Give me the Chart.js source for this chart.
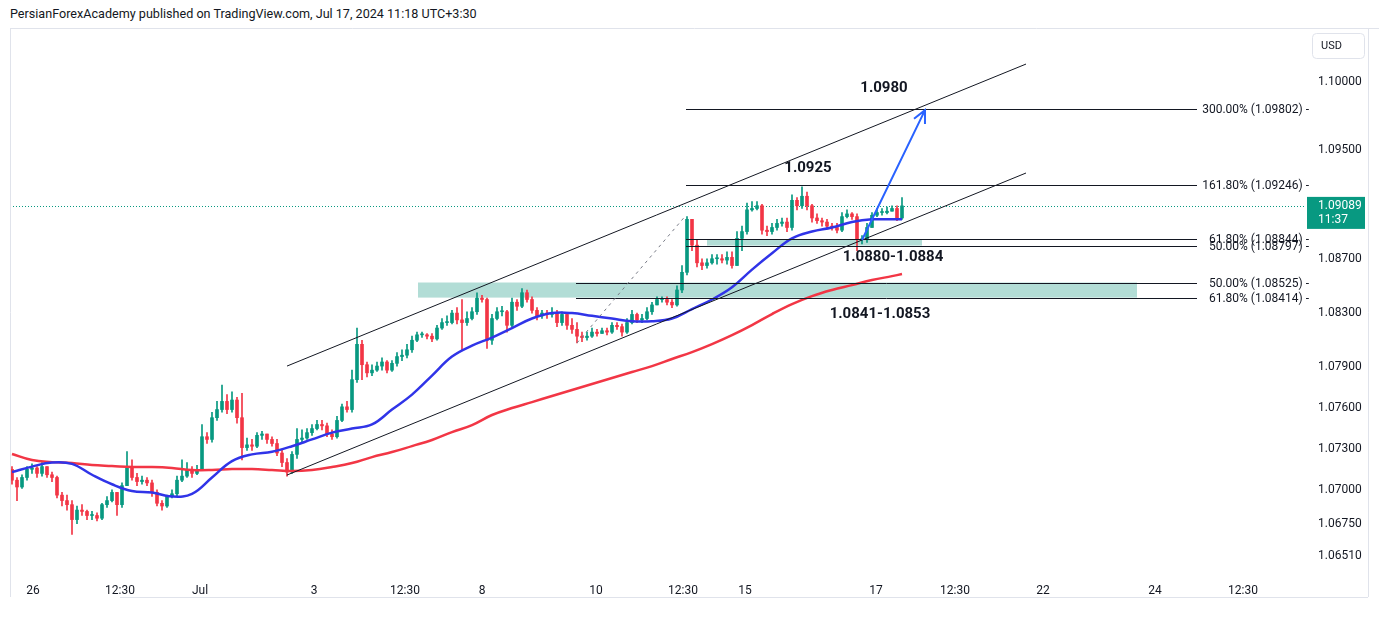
<!DOCTYPE html>
<html>
<head>
<meta charset="utf-8">
<title>EURUSD 1H</title>
<script src="https://cdn.jsdelivr.net/npm/chart.js@4.4.1/dist/chart.umd.min.js"></script>
<style>
  html, body { margin: 0; padding: 0; background: #fff; }
  #wrap { position: relative; width: 1379px; height: 634px; overflow: hidden; }
  #hdr { position: absolute; left: 10px; top: 6px; font: 12.6px Roboto, "Noto Sans", sans-serif; color: #131722; }
  #chart { position: absolute; left: 0; top: 0; }
</style>
</head>
<body>
<div id="wrap">
  <div id="hdr">PersianForexAcademy published on TradingView.com, Jul 17, 2024 11:18 UTC+3:30</div>
  <canvas id="chart" width="1379" height="634"></canvas>
</div>
<script>
"use strict";

// hourly candles, one per bar index, open = previous close
const firstOpen = 1.0715;
const closes = [
  1.0707, 1.0702, 1.0709, 1.0715, 1.0716, 1.0712, 1.0717, 1.0711, 1.0709, 1.0696,
  1.0692, 1.0689, 1.0678, 1.0685, 1.0684, 1.0681, 1.0681, 1.0679, 1.0689, 1.0692,
  1.0698, 1.0689, 1.0703, 1.0716, 1.0709, 1.0706, 1.0707, 1.0705, 1.0698, 1.0690,
  1.0688, 1.0695, 1.0697, 1.0707, 1.0710, 1.0715, 1.0712, 1.0715, 1.0739, 1.0737,
  1.0753, 1.0759, 1.0765, 1.0759, 1.0766, 1.0753, 1.0731, 1.0733, 1.0732, 1.0740,
  1.0741, 1.0737, 1.0734, 1.0727, 1.0720, 1.0713, 1.0726, 1.0737, 1.0738, 1.0742,
  1.0745, 1.0748, 1.0747, 1.0741, 1.0739, 1.0751, 1.0761, 1.0759, 1.0781, 1.0807,
  1.0792, 1.0786, 1.0788, 1.0791, 1.0794, 1.0788, 1.0793, 1.0798, 1.0799, 1.0803,
  1.0810, 1.0814, 1.0814, 1.0813, 1.0811, 1.0819, 1.0823, 1.0823, 1.0830, 1.0825,
  1.0823, 1.0826, 1.0831, 1.0841, 1.0840, 1.0810, 1.0826, 1.0831, 1.0831, 1.0821,
  1.0838, 1.0835, 1.0845, 1.0840, 1.0832, 1.0828, 1.0830, 1.0829, 1.0830, 1.0823,
  1.0829, 1.0821, 1.0818, 1.0813, 1.0812, 1.0813, 1.0816, 1.0815, 1.0817, 1.0816,
  1.0821, 1.0820, 1.0816, 1.0823, 1.0829, 1.0825, 1.0826, 1.0831, 1.0836, 1.0840,
  1.0840, 1.0838, 1.0836, 1.0847, 1.0860, 1.0899, 1.0880, 1.0867, 1.0865, 1.0867,
  1.0870, 1.0870, 1.0869, 1.0871, 1.0865, 1.0885, 1.0890, 1.0906, 1.0907, 1.0909,
  1.0891, 1.0890, 1.0893, 1.0896, 1.0897, 1.0893, 1.0913, 1.0909, 1.0916, 1.0909,
  1.0900, 1.0898, 1.0897, 1.0894, 1.0893, 1.0891, 1.0901, 1.0903, 1.0901, 1.0884,
  1.0884, 1.0893, 1.0902, 1.0904, 1.0904, 1.0905, 1.0907, 1.0900, 1.09089
];
const highs = [
  1.0717, 1.0709, 1.0711, 1.0717, 1.0719, 1.0717, 1.0720, 1.0717, 1.0713, 1.0710,
  1.0698, 1.0696, 1.0692, 1.0688, 1.0689, 1.0685, 1.0684, 1.0683, 1.0690, 1.0695,
  1.0700, 1.0698, 1.0705, 1.0728, 1.0722, 1.0712, 1.0710, 1.0709, 1.0707, 1.0700,
  1.0692, 1.0696, 1.0700, 1.0710, 1.0722, 1.0720, 1.0717, 1.0718, 1.0748, 1.0742,
  1.0757, 1.0765, 1.0777, 1.0770, 1.0772, 1.0768, 1.0771, 1.0738, 1.0737, 1.0742,
  1.0743, 1.0741, 1.0739, 1.0737, 1.0729, 1.0723, 1.0728, 1.0745, 1.0744, 1.0745,
  1.0748, 1.0751, 1.0751, 1.0749, 1.0744, 1.0754, 1.0763, 1.0765, 1.0788, 1.0819,
  1.0810, 1.0794, 1.0792, 1.0794, 1.0797, 1.0795, 1.0795, 1.0801, 1.0803, 1.0807,
  1.0813, 1.0816, 1.0816, 1.0815, 1.0815, 1.0821, 1.0826, 1.0828, 1.0832, 1.0834,
  1.0840, 1.0831, 1.0834, 1.0845, 1.0843, 1.0841, 1.0829, 1.0834, 1.0835, 1.0832,
  1.0841, 1.0840, 1.0848, 1.0847, 1.0842, 1.0834, 1.0832, 1.0832, 1.0834, 1.0832,
  1.0831, 1.0830, 1.0826, 1.0823, 1.0816, 1.0816, 1.0819, 1.0818, 1.0819, 1.0819,
  1.0823, 1.0823, 1.0822, 1.0826, 1.0832, 1.0830, 1.0829, 1.0834, 1.0838, 1.0842,
  1.0842, 1.0842, 1.0840, 1.0850, 1.0865, 1.0901, 1.0899, 1.0884, 1.0870, 1.0870,
  1.0873, 1.0873, 1.0873, 1.0875, 1.0875, 1.0890, 1.0894, 1.0911, 1.0912, 1.0912,
  1.0910, 1.0894, 1.0896, 1.0899, 1.0900, 1.0900, 1.0917, 1.0915, 1.0923, 1.0919,
  1.0910, 1.0903, 1.0900, 1.0899, 1.0896, 1.0896, 1.0904, 1.0906, 1.0904, 1.0903,
  1.0887, 1.0896, 1.0904, 1.0907, 1.0907, 1.0908, 1.0909, 1.0909, 1.0915
];
const lows = [
  1.0704, 1.0692, 1.0701, 1.0707, 1.0712, 1.0709, 1.0710, 1.0709, 1.0706, 1.0694,
  1.0688, 1.0685, 1.0667, 1.0675, 1.0681, 1.0678, 1.0678, 1.0677, 1.0678, 1.0687,
  1.0691, 1.0681, 1.0687, 1.0703, 1.0707, 1.0703, 1.0704, 1.0703, 1.0695, 1.0688,
  1.0685, 1.0687, 1.0694, 1.0695, 1.0706, 1.0709, 1.0709, 1.0711, 1.0714, 1.0734,
  1.0735, 1.0751, 1.0757, 1.0756, 1.0757, 1.0749, 1.0722, 1.0729, 1.0729, 1.0731,
  1.0737, 1.0734, 1.0732, 1.0725, 1.0717, 1.0710, 1.0712, 1.0723, 1.0735, 1.0737,
  1.0740, 1.0744, 1.0744, 1.0739, 1.0737, 1.0738, 1.0750, 1.0757, 1.0757, 1.0779,
  1.0781, 1.0783, 1.0784, 1.0787, 1.0788, 1.0786, 1.0787, 1.0791, 1.0795, 1.0797,
  1.0801, 1.0809, 1.0812, 1.0811, 1.0809, 1.0810, 1.0818, 1.0821, 1.0822, 1.0822,
  1.0803, 1.0821, 1.0825, 1.0829, 1.0838, 1.0804, 1.0807, 1.0825, 1.0828, 1.0816,
  1.0820, 1.0832, 1.0834, 1.0838, 1.0830, 1.0825, 1.0826, 1.0826, 1.0827, 1.0820,
  1.0821, 1.0818, 1.0815, 1.0808, 1.0809, 1.0810, 1.0812, 1.0813, 1.0815, 1.0814,
  1.0815, 1.0818, 1.0813, 1.0815, 1.0822, 1.0823, 1.0823, 1.0825, 1.0829, 1.0837,
  1.0838, 1.0836, 1.0834, 1.0835, 1.0845, 1.0858, 1.0876, 1.0864, 1.0862, 1.0863,
  1.0866, 1.0866, 1.0867, 1.0866, 1.0863, 1.0865, 1.0876, 1.0888, 1.0905, 1.0906,
  1.0888, 1.0887, 1.0888, 1.0891, 1.0894, 1.0890, 1.0891, 1.0906, 1.0907, 1.0906,
  1.0897, 1.0896, 1.0894, 1.0892, 1.0891, 1.0889, 1.0890, 1.0900, 1.0899, 1.0876,
  1.0881, 1.0882, 1.0893, 1.0901, 1.0902, 1.0903, 1.0905, 1.0898, 1.0899
];

// moving averages at these bar indices
const maBars = [0, 4, 8, 12, 16, 20, 24, 28, 32, 36, 40, 44, 48, 52, 56, 60, 64, 68, 72, 76,
  80, 84, 88, 92, 96, 100, 104, 108, 112, 116, 120, 124, 128, 132, 136, 140, 144, 148, 152, 156,
  160, 164, 168, 172, 176, 178];
const maFast = [1.0713, 1.0717, 1.0720, 1.0719, 1.0711, 1.0704, 1.0699, 1.0698, 1.0695, 1.0697,
  1.0709, 1.0721, 1.0726, 1.0728, 1.0732, 1.0737, 1.0742, 1.0745, 1.0748, 1.0759,
  1.0770, 1.0784, 1.0798, 1.0806, 1.0812, 1.0819, 1.0826, 1.0830, 1.0830, 1.0828,
  1.0826, 1.0824, 1.0824, 1.0826, 1.0833, 1.0840, 1.0849, 1.0862, 1.0874, 1.0885,
  1.0890, 1.0893, 1.0897, 1.0899, 1.0899, 1.0899];
const maSlow = [1.07263, 1.07218, 1.07203, 1.07196, 1.07181, 1.07174, 1.07167, 1.07167, 1.07160, 1.07145,
  1.07145, 1.07152, 1.07152, 1.07145, 1.07137, 1.07145, 1.07167, 1.07196, 1.07240, 1.07277,
  1.07321, 1.07366, 1.07424, 1.07476, 1.07550, 1.07601, 1.07645, 1.07690, 1.07734, 1.07778,
  1.07822, 1.07866, 1.07910, 1.07962, 1.08013, 1.08072, 1.08138, 1.08212, 1.08293, 1.08366,
  1.08425, 1.08470, 1.08506, 1.08543, 1.08572, 1.08587];

// axes
const timeTickPos = [4.2, 21.6, 37.6, 60.4, 78.6, 94, 116.8, 134.2, 146.6, 172.8, 188.6, 206.2, 228.6, 246.2];
const timeTickLabels = ["26", "12:30", "Jul", "3", "12:30", "8", "10", "12:30", "15", "17", "12:30", "22", "24", "12:30"];
const priceTicks = [1.10000, 1.09500, 1.08700, 1.08300, 1.07900, 1.07600, 1.07300, 1.07000, 1.06750, 1.06510];

// drawings: [bar, price] pairs
const channelUpper = [[55, 1.07910], [202.8, 1.10133]];
const channelLower = [[55, 1.07108], [202.8, 1.09331]];
const fibLabels = ["300.00%", "161.80%", "61.80%", "50.00%", "50.00%", "61.80%"];
const fibPrices = [1.09802, 1.09246, 1.08844, 1.08797, 1.08525, 1.08414];
const fibStart = [134.8, 134.8, 134.8, 134.8, 112.8, 112.8];
const fibEnd = 237;
const zoneBig = [[81.2, 1.08525], [225, 1.08414]];
const zoneSmall = [[139, 1.08844], [182, 1.08797]];
const dashedLeg = [[113, 1.0808], [134.8, 1.0902]];
const arrowLeg = [[170, 1.08838], [182.6, 1.09794]];
const noteTexts = ["1.0980", "1.0925", "1.0880-1.0884", "1.0841-1.0853"];
const notePos = [[174.4, 1.09956], [159.2, 1.09367], [176.2, 1.08712], [173.6, 1.08293]];

const UP = "#089981";
const DOWN = "#f23645";

const opens = closes.map((c, i) => (i === 0 ? firstOpen : closes[i - 1]));
const candleColors = closes.map((c, i) => (c >= opens[i] ? UP : DOWN));
const wicks = closes.map((c, i) => ({
  x: i,
  y: [Math.min(lows[i], opens[i], c), Math.max(highs[i], opens[i], c)]
}));
const bodies = closes.map((c, i) => ({ x: i, y: [opens[i], c] }));

const overlay = {
  id: "overlay",
  beforeDatasetsDraw(chart) {
    const { ctx, scales: { x, y }, chartArea: a } = chart;
    ctx.save();
    ctx.fillStyle = "#b2ddd6";
    [zoneBig, zoneSmall].forEach(z => {
      const x1 = x.getPixelForValue(z[0][0]), x2 = x.getPixelForValue(z[1][0]);
      const y1 = y.getPixelForValue(z[0][1]), y2 = y.getPixelForValue(z[1][1]);
      ctx.fillRect(x1, y1, x2 - x1, y2 - y1);
    });
    // last price line
    const py = Math.round(y.getPixelForValue(closes[closes.length - 1])) + 0.5;
    ctx.strokeStyle = UP;
    ctx.lineWidth = 1;
    ctx.setLineDash([1, 2]);
    ctx.beginPath();
    ctx.moveTo(a.left, py);
    ctx.lineTo(a.right, py);
    ctx.stroke();
    ctx.restore();
  },
  afterDatasetsDraw(chart) {
    const { ctx, scales: { x, y }, chartArea: a } = chart;
    const px = p => [x.getPixelForValue(p[0]), y.getPixelForValue(p[1])];
    const seg = (p, q) => {
      const s = px(p), e = px(q);
      ctx.beginPath();
      ctx.moveTo(s[0], s[1]);
      ctx.lineTo(e[0], e[1]);
      ctx.stroke();
    };
    ctx.save();
    ctx.strokeStyle = "#131722";
    ctx.lineWidth = 1;
    seg(channelUpper[0], channelUpper[1]);
    seg(channelLower[0], channelLower[1]);

    // fib levels
    ctx.font = "12px Roboto, sans-serif";
    ctx.fillStyle = "#131722";
    ctx.textAlign = "right";
    ctx.textBaseline = "middle";
    fibPrices.forEach((p, i) => {
      const yy = Math.round(y.getPixelForValue(p)) + 0.5;
      ctx.beginPath();
      ctx.moveTo(x.getPixelForValue(fibStart[i]), yy);
      ctx.lineTo(x.getPixelForValue(fibEnd), yy);
      ctx.stroke();
      ctx.fillText(fibLabels[i] + " (" + p.toFixed(5) + ") -", a.right + 4, yy);
    });

    // dashed leg
    ctx.strokeStyle = "#787b86";
    ctx.setLineDash([3, 4]);
    seg(dashedLeg[0], dashedLeg[1]);
    ctx.setLineDash([]);

    // projection arrow
    const s = px(arrowLeg[0]), e = px(arrowLeg[1]);
    ctx.strokeStyle = "#2962ff";
    ctx.lineWidth = 2;
    ctx.beginPath();
    ctx.moveTo(s[0], s[1]);
    ctx.lineTo(e[0], e[1]);
    const ang = Math.atan2(e[1] - s[1], e[0] - s[0]);
    const hl = 14;
    ctx.moveTo(e[0] + hl * Math.cos(ang + Math.PI - 0.45), e[1] + hl * Math.sin(ang + Math.PI - 0.45));
    ctx.lineTo(e[0], e[1]);
    ctx.lineTo(e[0] + hl * Math.cos(ang + Math.PI + 0.45), e[1] + hl * Math.sin(ang + Math.PI + 0.45));
    ctx.stroke();

    // notes
    ctx.font = "bold 15px Roboto, sans-serif";
    ctx.fillStyle = "#131722";
    ctx.textAlign = "center";
    ctx.textBaseline = "middle";
    noteTexts.forEach((t, i) => {
      const p = px(notePos[i]);
      ctx.fillText(t, p[0], p[1]);
    });
    ctx.restore();
  },
  afterDraw(chart) {
    const { ctx, scales: { y } } = chart;
    ctx.save();
    // frame
    ctx.strokeStyle = "#e0e3eb";
    ctx.lineWidth = 1;
    ctx.beginPath();
    ctx.moveTo(10, 28.5); ctx.lineTo(1379, 28.5);
    ctx.moveTo(10.5, 28); ctx.lineTo(10.5, 597);
    ctx.moveTo(1368.5, 28); ctx.lineTo(1368.5, 597);
    ctx.moveTo(120, 597.5); ctx.lineTo(1368, 597.5);
    ctx.stroke();

    // currency button
    ctx.beginPath();
    ctx.roundRect(1312.5, 33.5, 52, 25, 4);
    ctx.stroke();
    ctx.fillStyle = "#131722";
    ctx.font = "11px Roboto, sans-serif";
    ctx.textAlign = "left";
    ctx.textBaseline = "middle";
    ctx.fillText("USD", 1321, 46);

    // last price tag
    const py = y.getPixelForValue(closes[closes.length - 1]);
    ctx.fillStyle = UP;
    ctx.fillRect(1307, py - 9, 58, 32);
    ctx.fillStyle = "#ffffff";
    ctx.font = "12px Roboto, sans-serif";
    ctx.fillText(closes[closes.length - 1].toFixed(5), 1318, py);
    ctx.fillText("11:37", 1318, py + 14);
    ctx.restore();
  }
};

Chart.defaults.font.family = "Roboto, 'Noto Sans', sans-serif";
Chart.defaults.color = "#131722";

new Chart(document.getElementById("chart"), {
  type: "bar",
  data: {
    datasets: [
      {
        type: "line",
        data: maBars.map((b, k) => ({ x: b, y: maFast[k] })),
        borderColor: "#3034e8",
        borderWidth: 2.5,
        pointRadius: 0,
        tension: 0.4,
        order: 0
      },
      {
        type: "line",
        data: maBars.map((b, k) => ({ x: b, y: maSlow[k] })),
        borderColor: "#f23645",
        borderWidth: 2.5,
        pointRadius: 0,
        tension: 0.4,
        order: 0
      },
      {
        data: wicks,
        backgroundColor: candleColors,
        barThickness: 1,
        grouped: false,
        order: 1
      },
      {
        data: bodies,
        backgroundColor: candleColors,
        barThickness: 3,
        minBarLength: 1,
        grouped: false,
        order: 1
      }
    ]
  },
  options: {
    responsive: false,
    animation: false,
    layout: { padding: { left: 10, top: 29, right: 0, bottom: 0 } },
    plugins: { legend: { display: false }, tooltip: { enabled: false } },
    scales: {
      x: {
        type: "linear",
        offset: false,
        min: -0.4,
        max: 258.6,
        grid: { display: false, offset: false },
        border: { display: false },
        afterFit: scale => { scale.height = 64; },
        afterBuildTicks: scale => { scale.ticks = timeTickPos.map(v => ({ value: v })); },
        ticks: {
          autoSkip: false,
          maxRotation: 0,
          padding: 6,
          font: { size: 12 },
          callback: (v, i) => timeTickLabels[i]
        }
      },
      y: {
        position: "right",
        min: 1.06409,
        max: 1.10391,
        grid: { display: false, drawTicks: false },
        border: { display: false },
        afterFit: scale => { scale.width = 74; },
        afterBuildTicks: scale => { scale.ticks = priceTicks.map(v => ({ value: v })); },
        ticks: {
          padding: 13,
          font: { size: 12 },
          callback: v => v.toFixed(5)
        }
      }
    }
  },
  plugins: [overlay]
});
</script>
</body>
</html>
